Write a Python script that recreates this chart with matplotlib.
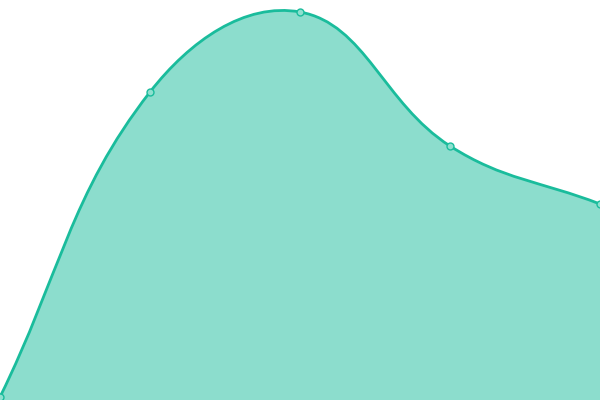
import numpy as np
import matplotlib
matplotlib.use("Agg")
import matplotlib.pyplot as plt
from matplotlib.path import Path
from matplotlib.patches import PathPatch

# === DATA ===
x_vals = [0, 150, 300, 450, 600]
y_vals = [3, 308, 388, 254, 196]
TENSION = 0.4
LINE_COLOR = "#1abc9c"


# === SPLINE CONTROL POINTS (chart.js style) ===
def control_points(xs, ys, t):
    pts = np.column_stack([xs, ys]).astype(float)
    n = len(pts)
    cps = []
    for i in range(n):
        prev = pts[max(i - 1, 0)]
        cur = pts[i]
        nxt = pts[min(i + 1, n - 1)]
        d01 = np.hypot(*(cur - prev))
        d12 = np.hypot(*(nxt - cur))
        tot = d01 + d12
        s01 = d01 / tot if tot else 0
        s12 = d12 / tot if tot else 0
        cp_prev = cur - t * s01 * (nxt - prev)
        cp_next = cur + t * s12 * (nxt - prev)
        cps.append((cp_prev, cp_next))
    return pts, cps


pts, cps = control_points(x_vals, y_vals, TENSION)

verts = [tuple(pts[0])]
codes = [Path.MOVETO]
for i in range(1, len(pts)):
    verts += [tuple(cps[i - 1][1]), tuple(cps[i][0]), tuple(pts[i])]
    codes += [Path.CURVE4] * 3

line_path = Path(verts, codes)
fill_path = Path(verts + [(x_vals[-1], 0), (x_vals[0], 0), verts[0]],
                 codes + [Path.LINETO, Path.LINETO, Path.CLOSEPOLY])

# === PLOT ===
fig = plt.figure(figsize=(6, 4), dpi=100)
ax = fig.add_axes([0, 0, 1, 1])
ax.add_patch(PathPatch(fill_path, facecolor=LINE_COLOR, alpha=0.5, edgecolor="none"))
ax.add_patch(PathPatch(line_path, facecolor="none", edgecolor=LINE_COLOR, lw=2.0))
ax.plot(x_vals, y_vals, "o", ms=5, mfc="#8ee0cf", mec=LINE_COLOR, mew=1)
ax.set_xlim(0, 600)
ax.set_ylim(0, 400)
ax.axis("off")

fig.savefig("out.png", dpi=100)
